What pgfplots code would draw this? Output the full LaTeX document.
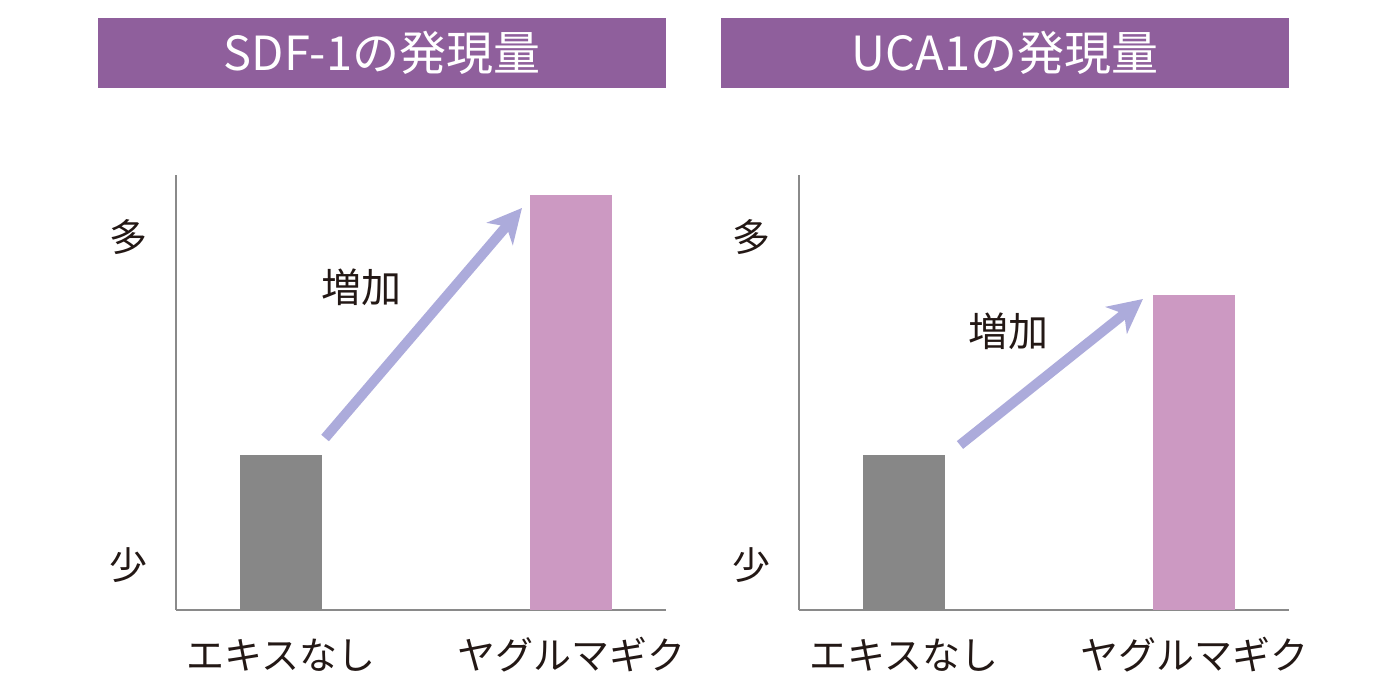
\documentclass[border=0pt]{standalone}
\usepackage{fontspec}
\setmainfont{Noto Sans CJK JP}
\usepackage{pgfplots}
\pgfplotsset{compat=1.18}
\usetikzlibrary{arrows.meta}
\definecolor{TitlePurple}{HTML}{8F5F9C}
\definecolor{BarGray}{HTML}{878787}
\definecolor{BarPink}{HTML}{CC99C2}
\definecolor{ArrowBlue}{HTML}{ACABDB}
\definecolor{AxisGray}{HTML}{8A8A8A}
\definecolor{TextDark}{HTML}{231815}

\pgfplotsset{
  panel/.style={
    scale only axis,
    width=245pt, height=217.5pt,
    anchor=south west,
    xmin=-0.362, xmax=1.3276,
    ymin=0, ymax=435,
    axis x line*=bottom, axis y line*=left,
    axis line style={AxisGray, line width=1pt, -},
    xtick={0,1}, xticklabels={エキスなし,ヤグルマギク},
    ytick={45,373}, yticklabels={少,多},
    major tick length=0pt,
    tick style={draw=none},
    xticklabel style={font=\fontsize{19}{22}\selectfont, text=TextDark, anchor=center, yshift=-22.5pt},
    yticklabel style={font=\fontsize{19}{22}\selectfont, text=TextDark, anchor=center, xshift=-24pt},
    ybar, bar width=41pt, bar shift=0pt,
  }
}

\begin{document}
\begin{tikzpicture}[x=0.5pt, y=0.5pt]
\path[use as bounding box] (0,0) rectangle (1400,700);

% titles
\fill[TitlePurple] (98,612) rectangle (666,682);
\node[text=white, font=\fontsize{23.5}{27}\selectfont] at (382,647) {SDF-1の発現量};
\fill[TitlePurple] (721,612) rectangle (1289,682);
\node[text=white, font=\fontsize{23.5}{27}\selectfont] at (1005,647) {UCA1の発現量};

% left panel
\begin{axis}[panel, at={(88pt,45pt)}]
  \addplot[fill=BarGray, draw=none] coordinates {(0,155)};
  \addplot[fill=BarPink, draw=none] coordinates {(1,415)};
  \draw[ArrowBlue, line width=5pt, -{Stealth[length=17pt, width=17pt, inset=5pt]}]
    (axis cs:0.152,172) -- (axis cs:0.831,402);
  \node[text=TextDark, font=\fontsize{20}{24}\selectfont] at (axis cs:0.279,323) {増加};
\end{axis}

% right panel
\begin{axis}[panel, at={(399.5pt,45pt)}]
  \addplot[fill=BarGray, draw=none] coordinates {(0,155)};
  \addplot[fill=BarPink, draw=none] coordinates {(1,315)};
  \draw[ArrowBlue, line width=5pt, -{Stealth[length=17pt, width=17pt, inset=5pt]}]
    (axis cs:0.193,165) -- (axis cs:0.824,311);
  \node[text=TextDark, font=\fontsize{20}{24}\selectfont] at (axis cs:0.362,279) {増加};
\end{axis}
\end{tikzpicture}
\end{document}
